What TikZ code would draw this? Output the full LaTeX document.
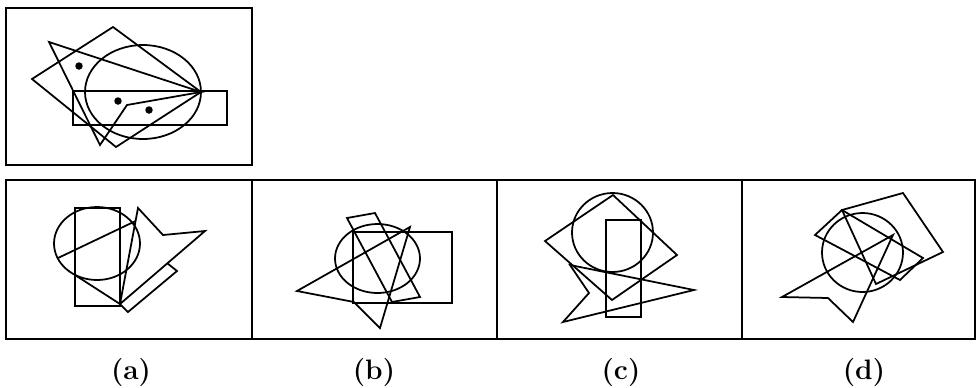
\documentclass[tikz,border=0pt]{standalone}
\begin{document}
\begin{tikzpicture}[x=0.02cm,y=-0.02cm,
  fig/.style={line width=1pt, line join=miter},
  frame/.style={line width=1.3pt},
  dotmark/.style={fill=black},
  lab/.style={font=\fontsize{16}{18}\selectfont\bfseries, inner sep=0pt}]
\useasboundingbox (0,0) rectangle (978,387);
% ---------- question figure ----------
\draw[frame] (6,8) rectangle (252,165);
\draw[fig] (143,92) ellipse [x radius=1.16cm, y radius=0.94cm];
\draw[fig] (32,79) -- (113,27) -- (201,92) -- (116,147) -- cycle;
\draw[fig] (73,91) rectangle (227,125);
\draw[fig] (49,42) -- (201,92) -- (127,105) -- (100,145) -- cycle;
\fill[dotmark] (79,66) circle [radius=0.075cm];
\fill[dotmark] (118,101) circle [radius=0.075cm];
\fill[dotmark] (149,110) circle [radius=0.075cm];
% ---------- answer frames ----------
\draw[frame] (6,180) rectangle (975,339);
\draw[frame] (252,180) -- (252,339);
\draw[frame] (497,180) -- (497,339);
\draw[frame] (742,180) -- (742,339);
% ---------- (a) ----------
\draw[fig] (97,243.5) ellipse [x radius=0.86cm, y radius=0.73cm];
\draw[fig] (75,208) rectangle (120,306);
\draw[fig] (138,208) -- (163,235) -- (205,231) -- (120,304) -- cycle;
\draw[fig] (167,263) -- (177,271) -- (128,312) -- (120,304);
\draw[fig] (58,258) -- (135.6,221);
\draw[fig] (75,275) -- (120,304);
% ---------- (b) ----------
\draw[fig] (377.5,258.5) ellipse [x radius=0.85cm, y radius=0.69cm];
\draw[fig] (353,232) rectangle (452,303);
\draw[fig] (347,218) -- (375,213) -- (420,297) -- (392,302) -- cycle;
\draw[fig] (297,291) -- (410,227) -- (380,328) -- (354,302) -- cycle;
% ---------- (c) ----------
\draw[fig] (612.5,232.5) ellipse [x radius=0.81cm, y radius=0.79cm];
\draw[fig] (606,220) rectangle (641,317);
\draw[fig] (613,195) -- (677,255) -- (612,300) -- (545,241) -- cycle;
\draw[fig] (570,265) -- (694,290) -- (563,322) -- (589,293) -- cycle;
% ---------- (d) ----------
\draw[fig] (862.5,252.5) ellipse [x radius=0.81cm, y radius=0.79cm];
\draw[fig] (815,235) -- (842,210) -- (923,258) -- (900,280) -- cycle;
\draw[fig] (842,210) -- (903,193) -- (943,252) -- (876,284) -- cycle;
\draw[fig] (782,297) -- (893,235) -- (853,322) -- (828,298) -- cycle;
% ---------- labels ----------
\node[lab] (la) at (131,372) {(a)};
\node[lab] (lb) at (374,372) {(b)};
\node[lab] (lc) at (621,372) {(c)};
\node[lab] (ld) at (864,372) {(d)};
\end{tikzpicture}
\end{document}
